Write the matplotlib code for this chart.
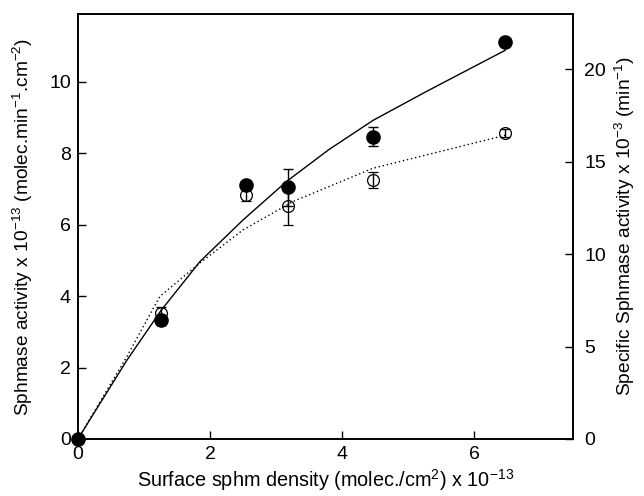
import matplotlib
matplotlib.use("Agg")
import matplotlib.pyplot as plt

plt.rcParams['font.family'] = ['Liberation Sans', 'DejaVu Sans']
plt.rcParams['mathtext.default'] = 'regular'

# surface density (x 10^-13 molec/cm2)
density = [0, 1.26, 2.54, 3.18, 4.47, 6.47]

# filled circles: Sphmase activity (left axis)
activity = [0, 3.33, 7.10, 7.04, 8.46, 11.11]
activity_err = [0, 0.15, 0.08, 0.53, 0.27, 0.05]

# open circles: specific activity (right axis)
specific = [0, 6.84, 13.2, 12.58, 14.0, 16.55]
specific_err = [0, 0.3, 0.3, 0.99, 0.44, 0.2]

# fitted curves
fit_act_x = [0, 0.74, 1.26, 1.85, 2.5, 3.16, 3.8, 4.47, 5.28, 6.47]
fit_act_y = [0, 2.2, 3.6, 4.97, 6.13, 7.21, 8.1, 8.92, 9.73, 10.88]
fit_spec_x = [0, 0.74, 1.24, 1.85, 2.5, 3.26, 4.47, 6.47]
fit_spec_y = [0, 4.45, 7.71, 9.53, 11.31, 12.85, 14.65, 16.43]


def main():
    fig = plt.figure(figsize=(6.44, 4.96), dpi=100)
    ax = fig.add_axes([0.121, 0.115, 0.769, 0.857])
    ax2 = ax.twinx()

    # left axis: activity
    ax.plot(fit_act_x, fit_act_y, color='black', lw=1.0)
    ax.errorbar(density, activity, yerr=activity_err, fmt='o', color='black',
                ms=9.5, capsize=3.5, elinewidth=1, capthick=1, clip_on=False,
                zorder=3)

    # right axis: specific activity
    ax2.plot(fit_spec_x, fit_spec_y, color='black', lw=1.0, ls=(0, (1, 2)))
    ax2.errorbar(density[1:], specific[1:], yerr=specific_err[1:], fmt='o',
                 mfc='none', mec='black', color='black', ms=8.5, mew=0.9,
                 capsize=3.5, elinewidth=1, capthick=1, zorder=3)

    ax.set_xlim(0, 7.5)
    ax.set_ylim(0, 11.9)
    ax2.set_ylim(0, 23)
    ax.set_xticks([0, 2, 4, 6])
    ax.set_yticks([0, 2, 4, 6, 8, 10])
    ax2.set_yticks([0, 5, 10, 15, 20])

    for a in (ax, ax2):
        a.tick_params(direction='in', length=6, width=1, labelsize=14)
        for s in a.spines.values():
            s.set_linewidth(1.2)
    ax.tick_params(axis='x', pad=5)
    ax.tick_params(axis='y', pad=5)
    ax2.tick_params(axis='y', pad=8)

    ax.set_xlabel('Surface sphm density (molec./cm$^{2}$) x 10$^{-13}$',
                  fontsize=14.3, labelpad=3)
    ax.set_ylabel('Sphmase activity x 10$^{-13}$ (molec.min$^{-1}$.cm$^{-2}$)',
                  fontsize=13.8, labelpad=10)
    ax2.set_ylabel('Specific Sphmase activity x 10$^{-3}$ (min$^{-1}$)',
                   fontsize=13.8, labelpad=5)

    fig.savefig('out.png', dpi=100)


if __name__ == '__main__':
    main()
